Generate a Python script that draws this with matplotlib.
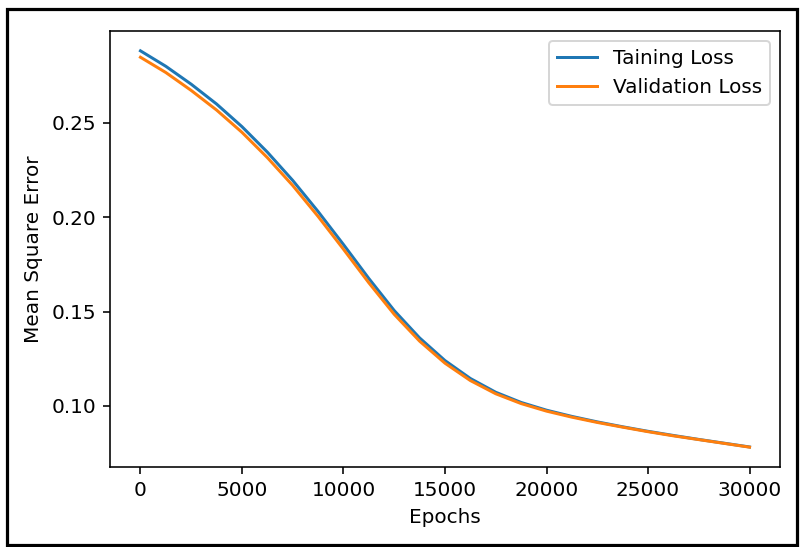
import matplotlib
matplotlib.use("Agg")
import matplotlib.pyplot as plt
from matplotlib.patches import Rectangle

# values, every 1250 epochs
epochs = list(range(0, 30001, 1250))
train_loss = [0.2882, 0.2800, 0.2705, 0.2600, 0.2480, 0.2345, 0.2195, 0.2030, 0.1855,
              0.1675, 0.1505, 0.1360, 0.1240, 0.1145, 0.1072, 0.1018, 0.0977, 0.0944,
              0.0915, 0.0889, 0.0865, 0.0843, 0.0822, 0.0802, 0.0782]
val_loss = [0.2848, 0.2767, 0.2672, 0.2568, 0.2450, 0.2316, 0.2168, 0.2004, 0.1830,
            0.1652, 0.1485, 0.1343, 0.1226, 0.1134, 0.1064, 0.1012, 0.0972, 0.0940,
            0.0912, 0.0887, 0.0863, 0.0841, 0.0821, 0.0801, 0.0781]

dpi = 144
fig = plt.figure(figsize=(800 / dpi, 547 / dpi), dpi=dpi)
ax = fig.add_axes([0.1375, 0.1463, 0.8375, 0.797])

ax.plot(epochs, train_loss, color="#1f77b4", lw=1.5, label="Taining Loss")
ax.plot(epochs, val_loss, color="#ff7f0e", lw=1.5, label="Validation Loss")

ax.set_xlabel("Epochs", fontsize=10)
ax.set_ylabel("Mean Square Error", fontsize=10)
ax.set_yticks([0.10, 0.15, 0.20, 0.25])
ax.tick_params(labelsize=10, length=3.5, width=0.8)
for s in ax.spines.values():
    s.set_linewidth(0.8)
ax.legend(loc="upper right", fontsize=10)

# black frame around the whole picture
fig.patches.append(Rectangle((7 / 800, 2 / 547), 790 / 800, 536 / 547,
                             transform=fig.transFigure, fill=False,
                             edgecolor="black", linewidth=1.6))

fig.savefig("out.png", dpi=dpi)
